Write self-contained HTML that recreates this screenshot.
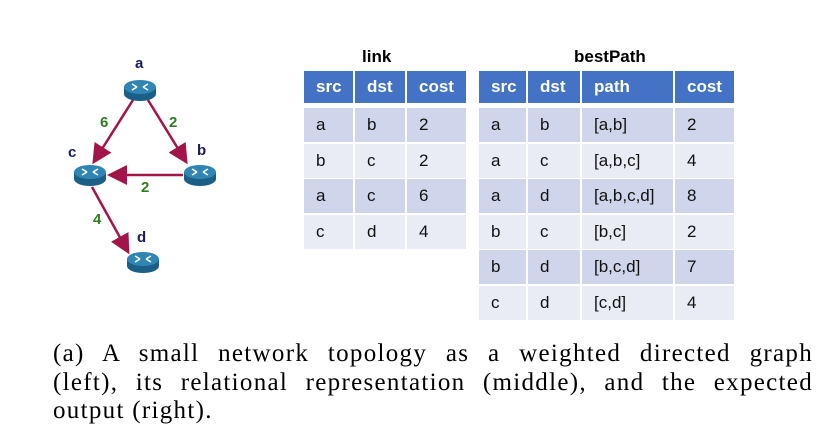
<!DOCTYPE html>
<html><head><meta charset="utf-8"><style>
body{margin:0;background:#fff;width:831px;height:438px;position:relative;overflow:hidden;font-family:"Liberation Sans",sans-serif}
.t{position:absolute;font-weight:bold;font-size:17px;color:#000}
.c{position:absolute;box-sizing:border-box;padding-left:12px;font-size:17px;display:flex;align-items:center}
.h{background:#4472C4;color:#fff;font-weight:bold}
.d{background:#CFD5EA;color:#111}
.l{background:#E9EBF5;color:#111}
#cap{position:absolute;left:53px;top:340px;width:760px;font-family:"Liberation Serif",serif;font-size:25px;letter-spacing:1.3px;line-height:28.5px;color:#000}
#cap div{text-align:justify;text-align-last:justify;white-space:nowrap}
#cap div.last{text-align-last:left}
</style></head><body>
<svg style="position:absolute;left:0;top:0" width="300" height="300">
<defs><marker id="ar" markerWidth="8" markerHeight="8" refX="6" refY="4" orient="auto"><path d="M0,0 L8,4 L0,8 z" fill="#A3154A"/></marker>
<g id="rt"><ellipse cx="0" cy="4" rx="16" ry="7" fill="#1B5E86"/><rect x="-16" y="-3" width="32" height="7" fill="#1B5E86"/><ellipse cx="0" cy="-3" rx="16" ry="7" fill="#2F86B5"/><path d="M-8,-6 L-3,-3 M8,0 L3,-3 M-8,0 L-3,-3 M8,-6 L3,-3" stroke="#fff" stroke-width="1.6"/></g></defs>
<g stroke="#A3154A" stroke-width="2.5" marker-end="url(#ar)">
<line x1="133" y1="100" x2="95" y2="160"/><line x1="148" y1="100" x2="185" y2="160"/>
<line x1="183" y1="175" x2="112" y2="175"/><line x1="92" y1="187" x2="127" y2="250"/></g>
<use href="#rt" x="140" y="90"/>
<use href="#rt" x="200" y="175"/>
<use href="#rt" x="90" y="175"/>
<use href="#rt" x="143" y="262"/>
<g font-family="Liberation Sans" font-weight="bold" font-size="15" fill="#1a1a5e">
<text x="135" y="68">a</text><text x="197" y="155">b</text><text x="68" y="157">c</text><text x="137" y="242">d</text></g>
<g font-family="Liberation Sans" font-weight="bold" font-size="15" fill="#2E7D1E">
<text x="100" y="127">6</text><text x="169" y="127">2</text><text x="141" y="192">2</text><text x="93" y="224">4</text></g>
</svg>
<div class="t" style="left:362px;top:47px">link</div>
<div class="t" style="left:574px;top:47px">bestPath</div>
<div id="tables"></div>
<div id="cap"><div>(a) A small network topology as a weighted directed graph</div><div>(left), its relational representation (middle), and the expected</div><div class="last">output (right).</div></div>
<script>
const linkCols=[[304,49],[355,50],[407,59]];
const linkHead=["src","dst","cost"];
const linkRows=[["a","b","2"],["b","c","2"],["a","c","6"],["c","d","4"]];
const bpCols=[[479,47],[528,52],[582,91],[675,59]];
const bpHead=["src","dst","path","cost"];
const bpRows=[["a","b","[a,b]","2"],["a","c","[a,b,c]","4"],["a","d","[a,b,c,d]","8"],["b","c","[b,c]","2"],["b","d","[b,c,d]","7"],["c","d","[c,d]","4"]];
const T=document.getElementById('tables');
function cell(x,y,w,h,cls,txt,name){const e=document.createElement('div');e.className='c '+cls;e.style.cssText=`left:${x}px;top:${y}px;width:${w}px;height:${h}px`;e.textContent=txt;


T.appendChild(e);}
function table(cols,head,rows,pre){head.forEach((t,i)=>cell(cols[i][0],71,cols[i][1],32,'h',t,pre+'-header-'+t));
rows.forEach((r,j)=>r.forEach((t,i)=>cell(cols[i][0],108+j*35.5,cols[i][1],34,j%2?'l':'d',t,pre+'-cell')));}
table(linkCols,linkHead,linkRows,'link');
table(bpCols,bpHead,bpRows,'bestpath');
</script>
</body></html>
